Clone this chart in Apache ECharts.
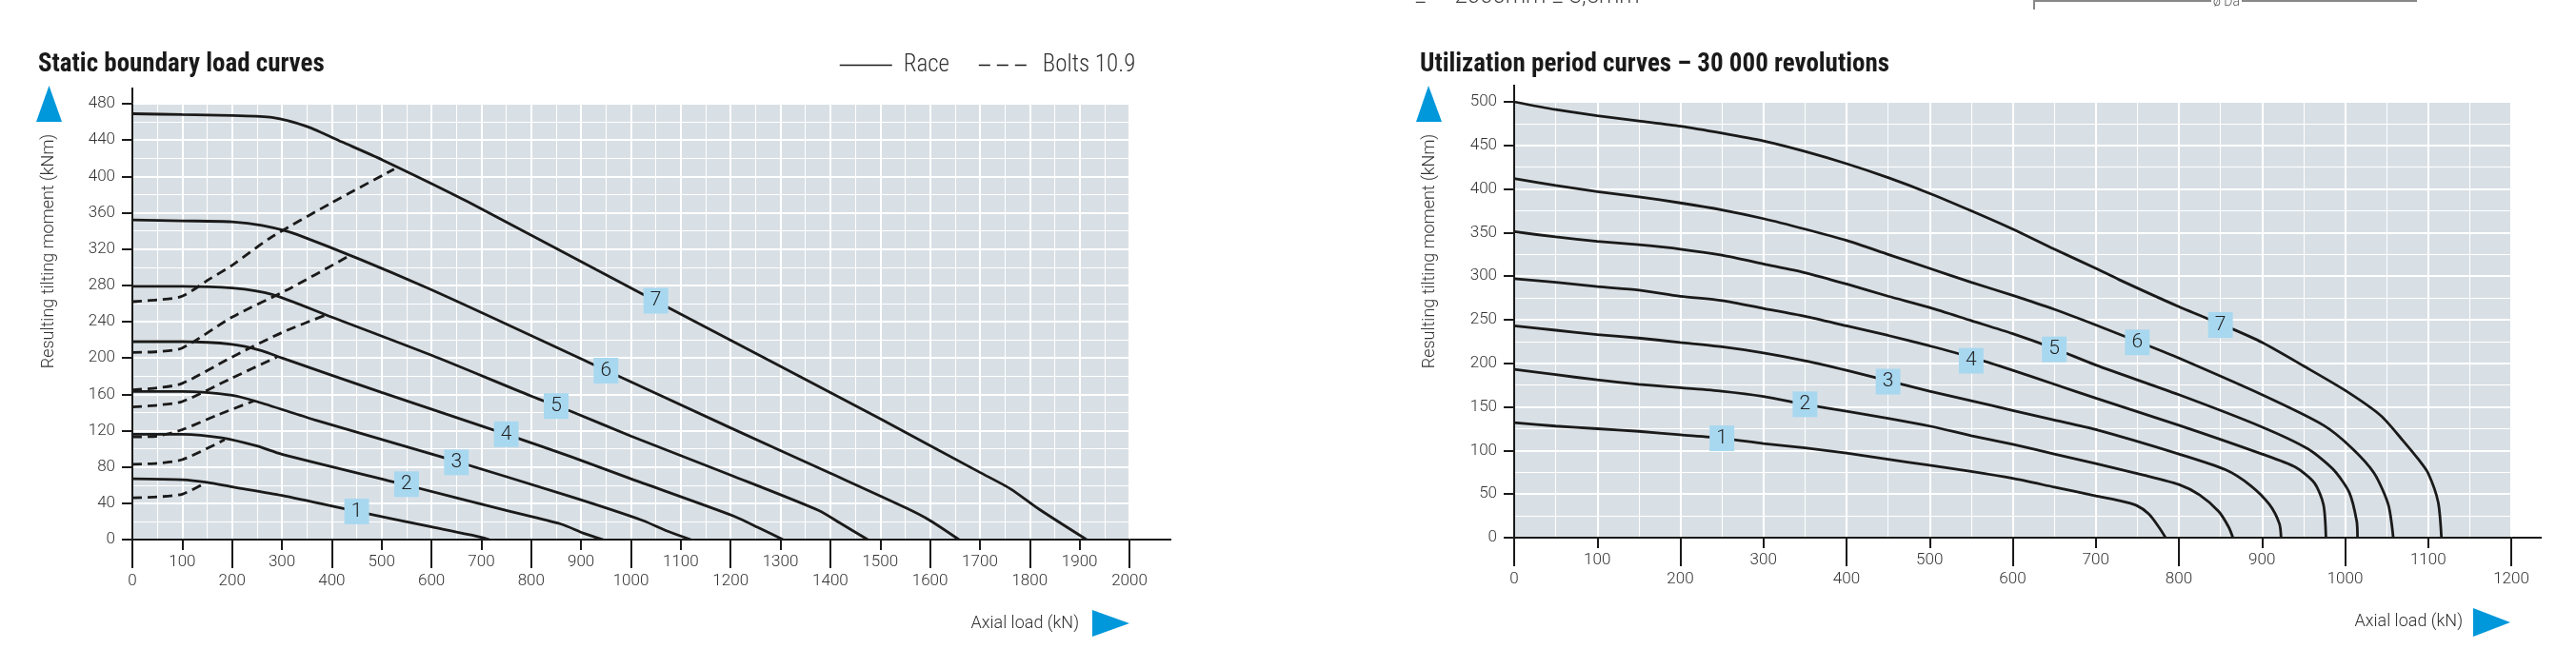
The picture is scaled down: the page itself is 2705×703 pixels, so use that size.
<!DOCTYPE html>
<html><head><meta charset="utf-8">
<script src="https://cdn.jsdelivr.net/npm/echarts@6/dist/echarts.min.js"></script>
<style>html,body{margin:0;padding:0;background:#fff}#c{width:2705px;height:703px}</style>
</head><body><div id="c"></div>
<script>
// ---------- Static boundary load curves (left) ----------
const staticRace1 = [[0,67],[100,66],[150,63],[200,58],[300,48.5],[450,31],[600,14],[680,5],[716,0]];
const staticRace2 = [[0,116],[100,116],[180,112],[250,103],[300,94],[550,60],[750,32],[860,17],[905,7],[944,0]];
const staticRace3 = [[0,163],[100,163],[200,159],[250,152],[365,132],[620,91],[881,47],[1024,21],[1070,10],[1120,0]];
const staticRace4 = [[0,218],[100,218],[200,215],[260,208],[300,200],[500,162],[750,116],[881,91],[1000,67],[1206,26],[1260,12],[1305,0]];
const staticRace5 = [[0,279],[100,279],[200,277],[280,270],[400,245],[600,203],[800,158],[881,141],[1000,114],[1200,71],[1377,32],[1420,18],[1475,0]];
const staticRace6 = [[0,352],[100,351],[200,350],[260,346],[330,336],[588,278],[912,196],[1200,123],[1400,73],[1551,35],[1600,21],[1658,0]];
const staticRace7 = [[0,469],[100,468],[200,467],[280,465],[350,455],[420,438],[502,418],[673,372],[1014,273],[1282,196],[1500,133],[1700,74],[1761,56],[1820,33],[1914,0]];

const bolt1 = [[0,46],[50,47],[100,50],[145,62]];
const bolt2 = [[0,83],[50,84],[100,88],[185,110]];
const bolt3 = [[0,113],[50,114],[100,121],[170,137],[245,153]];
const bolt4 = [[0,146],[50,148],[100,152],[200,178],[290,201]];
const bolt5 = [[0,165],[50,167],[100,172],[200,201],[300,228],[391,248]];
const bolt6 = [[0,206],[50,207],[100,211],[200,245],[314,276],[430,311]];
const bolt7 = [[0,262],[50,264],[100,268],[155,287],[200,302],[276,332],[400,371],[525,408]];

const staticLabels = ['1','2','3','4','5','6','7'];
const staticLabelPos = [[450,31],[550,61],[650,85],[750,116],[850,147],[950,186],[1050,263]];

// ---------- Utilization period curves (right) ----------
const util1 = [[0,132],[50,128],[100,125],[150,122],[200,118],[250,114],[300,108],[350,103],[400,97],[450,90],[500,83],[550,76],[600,68],[650,58],[700,48],[726,43],[749,37],[764,27],[776,12],[784,0]];
const util2 = [[0,193],[50,187],[100,181],[150,176],[200,172],[250,168],[300,162],[350,153],[400,145],[450,137],[500,128],[550,117],[600,107],[650,96],[700,85],[757,72],[800,61],[825,49],[848,30],[860,12],[865,0]];
const util3 = [[0,243],[50,238],[100,233],[150,229],[200,224],[250,219],[300,212],[350,203],[400,192],[450,180],[500,168],[550,157],[600,146],[650,135],[700,124],[800,96],[856,78],[886,60],[909,38],[921,16],[923,0]];
const util4 = [[0,297],[50,293],[100,288],[150,284],[200,277],[250,272],[300,263],[350,254],[400,243],[450,232],[500,220],[550,207],[600,192],[650,176],[700,160],[800,129],[900,96],[940,81],[963,63],[974,38],[977,0]];
const util5 = [[0,351],[50,345],[100,340],[150,336],[200,331],[250,324],[300,314],[350,304],[400,291],[450,277],[500,264],[550,249],[600,234],[650,217],[700,198],[800,164],[900,127],[955,102],[986,78],[1005,52],[1014,19],[1015,0]];
const util6 = [[0,412],[50,404],[100,397],[150,391],[200,384],[250,376],[300,366],[350,354],[400,341],[450,325],[500,309],[550,293],[600,278],[650,262],[700,244],[764,220],[800,206],[900,164],[974,129],[1008,103],[1035,74],[1052,38],[1058,0]];
const util7 = [[0,500],[50,491],[100,484],[150,478],[200,472],[250,464],[300,455],[350,443],[400,429],[450,413],[500,395],[550,375],[600,354],[650,331],[700,309],[728,296],[800,265],[863,240],[900,224],[950,197],[1000,169],[1043,140],[1070,111],[1089,89],[1100,74],[1112,41],[1116,0]];

const utilLabels = ['1','2','3','4','5','6','7'];
const utilLabelPos = [[250,114],[350,153],[450,179],[550,203],[650,216],[750,224],[850,244]];

// axis ticks
const staticXTicks = {min:0, max:2000, step:100};
const staticYTicks = {min:0, max:480, step:40};
const utilXTicks = {min:0, max:1200, step:100};
const utilYTicks = {min:0, max:500, step:50};

const titles = ['Static boundary load curves', 'Utilization period curves – 30 000 revolutions'];
const yTitle = 'Resulting tilting moment (kNm)';
const xTitle = 'Axial load (kN)';
const legendNames = ['Race', 'Bolts 10.9'];

// ---------- styling ----------
const FONT = "Roboto, 'Liberation Sans', sans-serif";
const COND = "'Roboto Condensed', 'Liberation Sans Narrow', 'DejaVu Sans Condensed', Roboto, sans-serif";
const INK = '#1a1a1a';
const BLUE = '#0098da';
const BOX = '#a8d8f0';
const BG = '#d9e0e5';

function mainX(grid, t) {
  return {
    gridIndex: grid, type: 'value', position: 'bottom', min: t.min, max: t.max, interval: t.step,
    axisLine: {show: true, onZero: false, lineStyle: {color: INK, width: 2}},
    axisTick: {show: true, length: 11, lineStyle: {color: INK, width: 2}},
    axisLabel: {
      show: true, interval: 0, margin: 14, fontSize: 17, lineHeight: 20, color: '#333', fontFamily: FONT, fontWeight: 300,
      formatter: v => ((Math.round(v / t.step) % 2) === 1 ? String(v) : '\n' + v)
    },
    splitLine: {show: true, lineStyle: {color: '#fff', width: 2}},
    minorTick: {show: false, splitNumber: 2},
    minorSplitLine: {show: true, lineStyle: {color: '#fff', width: 1}}
  };
}
function longX(grid, t) {
  return {
    gridIndex: grid, type: 'value', position: 'bottom', min: t.min, max: t.max, interval: t.step * 2,
    axisLine: {show: false}, axisTick: {show: true, length: 30, lineStyle: {color: INK, width: 2}},
    axisLabel: {show: false}, splitLine: {show: false}
  };
}
function mainY(grid, t) {
  return {
    gridIndex: grid, type: 'value', min: t.min, max: t.max, interval: t.step,
    axisLine: {show: true, onZero: false, lineStyle: {color: INK, width: 2}},
    axisTick: {show: true, length: 11, lineStyle: {color: INK, width: 2}},
    axisLabel: {show: true, margin: 18, fontSize: 17, color: '#333', fontFamily: FONT, fontWeight: 300},
    splitLine: {show: true, lineStyle: {color: '#fff', width: 2}},
    minorTick: {show: false, splitNumber: 2},
    minorSplitLine: {show: true, lineStyle: {color: '#fff', width: 1}}
  };
}
function curve(name, data, xi, yi, dashed) {
  return {
    type: 'line', name: name, data: data, xAxisIndex: xi, yAxisIndex: yi,
    symbol: 'none', smooth: 0.25, silent: true, z: 3,
    lineStyle: {color: INK, width: 2.8, type: dashed ? [10, 6] : 'solid'},
    itemStyle: {color: INK}
  };
}
function labels(names, pos, xi, yi) {
  return {
    type: 'scatter', xAxisIndex: xi, yAxisIndex: yi, silent: true, z: 6,
    symbol: 'rect', symbolSize: [26, 27],
    itemStyle: {color: BOX, opacity: 1},
    label: {show: true, position: 'inside', formatter: p => p.name, fontSize: 21, color: '#222', fontFamily: FONT, fontWeight: 300},
    data: pos.map((p, i) => ({name: names[i], value: p}))
  };
}

const staticRace = [staticRace1, staticRace2, staticRace3, staticRace4, staticRace5, staticRace6, staticRace7];
const bolts = [bolt1, bolt2, bolt3, bolt4, bolt5, bolt6, bolt7];
const utils = [util1, util2, util3, util4, util5, util6, util7];

const series = [];
staticRace.forEach(d => series.push(curve(legendNames[0], d, 0, 0, false)));
bolts.forEach(d => series.push(curve(legendNames[1], d, 0, 0, true)));
series.push(labels(staticLabels, staticLabelPos, 0, 0));
utils.forEach(d => series.push(curve('util', d, 2, 1, false)));
series.push(labels(utilLabels, utilLabelPos, 2, 1));

const tri = (pts) => ({type: 'polygon', shape: {points: pts}, style: {fill: BLUE}, silent: true});
const seg = (x1, y1, x2, y2, c) => ({type: 'line', shape: {x1, y1, x2, y2}, style: {stroke: c || INK, lineWidth: 2}, silent: true});
const txt = (x, y, text, opts) => ({type: 'text', x, y, silent: true, rotation: opts.rot || 0,
  style: Object.assign({text, fontSize: 18, fontFamily: FONT, fontWeight: 300, fill: '#333', textAlign: 'center', textVerticalAlign: 'middle'}, opts.style || {})});

const option = {
  backgroundColor: '#fff',
  animation: false,
  title: [
    {text: titles[0], left: 35, top: 50, textStyle: {fontSize: 27, fontWeight: 'bold', fontFamily: COND, color: INK}},
    {text: titles[1], left: 1486, top: 50, textStyle: {fontSize: 27, fontWeight: 'bold', fontFamily: COND, color: INK}}
  ],
  legend: {
    data: [
      {name: legendNames[0], lineStyle: {type: 'solid', width: 1.5}},
      {name: legendNames[1], lineStyle: {type: [12, 7], width: 1.5}}
    ],
    left: 876, top: 51, itemWidth: 55, itemHeight: 14, itemGap: 30,
    itemStyle: {opacity: 0, borderWidth: 0},
    lineStyle: {width: 1.5},
    textStyle: {fontSize: 25, fontFamily: COND, fontWeight: 300, color: '#333', padding: [0, 0, 0, 7]},
    selectedMode: false
  },
  grid: [
    {left: 139, top: 109, width: 1047, height: 458, show: true, backgroundColor: BG, borderWidth: 0},
    {left: 1590, top: 107, width: 1047, height: 458, show: true, backgroundColor: BG, borderWidth: 0}
  ],
  xAxis: [mainX(0, staticXTicks), longX(0, staticXTicks), mainX(1, utilXTicks), longX(1, utilXTicks)],
  yAxis: [mainY(0, staticYTicks), mainY(1, utilYTicks)],
  series: series,
  graphic: [
    tri([[51.5, 90], [38, 128], [65, 128]]),
    tri([[1500, 90], [1487, 128], [1514, 128]]),
    tri([[1147, 641], [1186, 655], [1147, 669]]),
    tri([[2597, 639], [2636, 654], [2597, 669]]),
    seg(139, 92, 139, 110), seg(1185, 567, 1230, 567),
    seg(1590, 89, 1590, 108), seg(2636, 565, 2669, 565),
    txt(51, 264, yTitle, {rot: Math.PI / 2}),
    txt(1501, 264, yTitle, {rot: Math.PI / 2}),
    txt(1133, 655, xTitle, {style: {textAlign: 'right'}}),
    txt(2586, 653, xTitle, {style: {textAlign: 'right'}}),
    txt(1486, 9, '≤     2000mm ± 3,5mm', {style: {textAlign: 'left', textVerticalAlign: 'bottom', fontSize: 24, fill: '#444'}}),
    seg(2136, 1, 2322, 1, '#888'), seg(2354, 1, 2538, 1, '#888'), seg(2136, 0, 2136, 10, '#888'),
    txt(2338, 9, 'ø Da', {style: {textVerticalAlign: 'bottom', fontSize: 14, fill: '#555'}})
  ]
};

const chart = echarts.init(document.getElementById('c'), null, {renderer: 'canvas', width: 2705, height: 703});
chart.setOption(option);
</script>
</body></html>
